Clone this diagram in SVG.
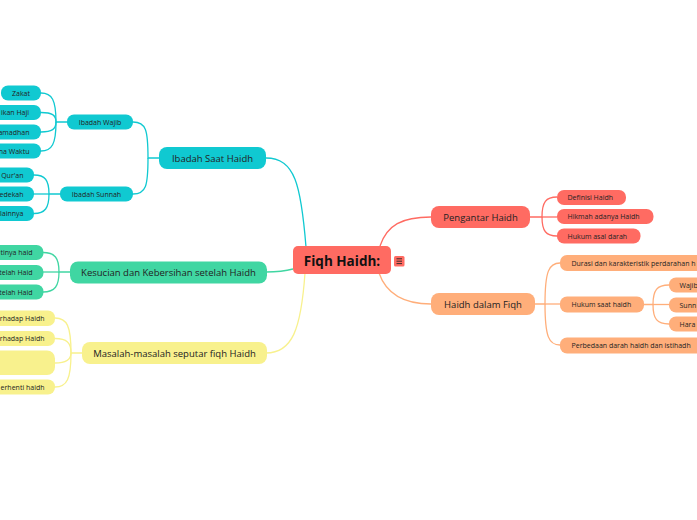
<svg xmlns="http://www.w3.org/2000/svg" width="697" height="520" viewBox="0 0 697 520">
<style>
text{font-family:"Open Sans","Noto Sans",sans-serif;fill:#222;}
.t1{font-size:9.5px;text-anchor:middle;}
.t2{font-size:7px;text-anchor:middle;}
.te{font-size:7px;text-anchor:end;}
.ts{font-size:7px;text-anchor:start;}
.c{fill:none;stroke-width:1.3;}
.teal{fill:#10c9d1;} .green{fill:#40d6a2;} .yellow{fill:#f8f18d;} .red{fill:#ff6b62;} .orange{fill:#ffae7a;}
.steal{stroke:#10c9d1;} .sgreen{stroke:#40d6a2;} .syellow{stroke:#f8f18d;} .sred{stroke:#ff6b62;} .sorange{stroke:#ffae7a;}
</style>
<rect width="697" height="520" fill="#ffffff"/>
<g id="connectors">
  <path class="c steal" d="M306 247 C301 185 295 158 266 158"/>
  <path class="c sgreen" d="M293 269 C282 272 276 272 266 272"/>
  <path class="c syellow" d="M305 273 C301 330 292 353 266 353"/>
  <path class="c sred" d="M380 246 C387 225 402 217 431 217"/>
  <path class="c sorange" d="M379 273 C386 293 402 304 431 304"/>
  <path class="c steal" d="M159 158 L148 158 C148 130 146 122 133 122"/>
  <path class="c steal" d="M148 158 C148 186 146 194 133 194"/>
  <path class="c steal" d="M67 122 L56 122 C56 100 52 93 41 93"/>
  <path class="c steal" d="M56 122 C56 115 52 112.5 41 112.5"/>
  <path class="c steal" d="M56 122 C56 129 52 132 41 132"/>
  <path class="c steal" d="M56 122 C56 144 52 151 41 151"/>
  <path class="c steal" d="M60 194 L49 194 C49 180 45 175 34 175"/>
  <path class="c steal" d="M49 194 L34 194"/>
  <path class="c steal" d="M49 194 C49 208 45 213.5 34 213.5"/>
  <path class="c sgreen" d="M70 272 L59 272 C59 258 55 252.5 43 252.5"/>
  <path class="c sgreen" d="M59 272 L43 272"/>
  <path class="c sgreen" d="M59 272 C59 286 55 292 43 292"/>
  <path class="c syellow" d="M82 353 L71 353 C71 326 67 318 55 318"/>
  <path class="c syellow" d="M71 353 C71 343 67 338.5 55 338.5"/>
  <path class="c syellow" d="M71 353 C71 359 67 363 55 363"/>
  <path class="c syellow" d="M71 353 C71 379 67 387 55 387"/>
  <path class="c sred" d="M530 217 L542 217 C542 202 546 197 557 197"/>
  <path class="c sred" d="M542 217 L557 217"/>
  <path class="c sred" d="M542 217 C542 231 546 236 557 236"/>
  <path class="c sorange" d="M535 304 L545 304 C545 271 549 263 560 263"/>
  <path class="c sorange" d="M545 304 L560 304"/>
  <path class="c sorange" d="M545 304 C545 337 549 345 560 345"/>
  <path class="c sorange" d="M644 304.5 L653 304.5 C653 290 657 285 669 285"/>
  <path class="c sorange" d="M653 304.5 L669 304.5"/>
  <path class="c sorange" d="M653 304.5 C653 319 657 324 669 324"/>
</g>
<g id="central">
  <rect class="red" x="293" y="246" width="98" height="28" rx="5"/>
  <text x="342" y="265.5" style="font-size:13.5px;font-weight:bold;text-anchor:middle;fill:#111;">Fiqh Haidh:</text>
  <rect class="red" x="394" y="256" width="10.5" height="10.5" rx="1.5"/>
  <path d="M396.5 258.8 H402 M396.5 261.2 H402 M396.5 263.6 H402" stroke="#222" stroke-width="0.9"/>
</g>
<g id="ibadah-saat-haidh">
  <rect class="teal" x="159" y="147" width="107" height="22" rx="8"/>
  <text class="t1" x="212.5" y="161.5">Ibadah Saat Haidh</text>
</g>
<g id="ibadah-wajib">
  <rect class="teal" x="67" y="114.5" width="66" height="15" rx="7"/>
  <text class="t2" x="100" y="124.5">Ibadah Wajib</text>
</g>
<g id="zakat">
  <rect class="teal" x="1" y="85.5" width="40" height="15" rx="7"/>
  <text class="t2" x="21" y="95.5">Zakat</text>
</g>
<g id="haji">
  <rect class="teal" x="-40" y="105" width="81" height="15" rx="7"/>
  <text class="te" x="29" y="115">ikan Haji</text>
</g>
<g id="ramadhan">
  <rect class="teal" x="-40" y="124.5" width="81" height="15" rx="7"/>
  <text class="te" x="29.5" y="134.5">amadhan</text>
</g>
<g id="shalat">
  <rect class="teal" x="-40" y="143.5" width="81" height="15" rx="7"/>
  <text class="te" x="29.5" y="153.5">na Waktu</text>
</g>
<g id="ibadah-sunnah">
  <rect class="teal" x="60" y="186.5" width="73" height="15" rx="7"/>
  <text class="t2" x="96.5" y="196.5">Ibadah Sunnah</text>
</g>
<g id="quran">
  <rect class="teal" x="-40" y="167.5" width="74" height="15" rx="7"/>
  <text class="te" x="23.5" y="177.5">Qur'an</text>
</g>
<g id="sedekah">
  <rect class="teal" x="-40" y="186.5" width="74" height="15" rx="7"/>
  <text class="te" x="23.5" y="196.5">edekah</text>
</g>
<g id="lainnya">
  <rect class="teal" x="-40" y="206" width="74" height="15" rx="7"/>
  <text class="te" x="23.5" y="216">lainnya</text>
</g>
<g id="kesucian">
  <rect class="green" x="70" y="261.5" width="197" height="22" rx="8"/>
  <text class="t1" x="168.5" y="276">Kesucian dan Kebersihan setelah Haidh</text>
</g>
<g id="kesucian-1">
  <rect class="green" x="-40" y="245" width="83.5" height="15" rx="7"/>
  <text class="te" x="32.5" y="255">tinya haid</text>
</g>
<g id="kesucian-2">
  <rect class="green" x="-40" y="265" width="83.5" height="15" rx="7"/>
  <text class="te" x="32.5" y="275">telah Haid</text>
</g>
<g id="kesucian-3">
  <rect class="green" x="-40" y="284.5" width="83.5" height="15" rx="7"/>
  <text class="te" x="32.5" y="294.5">telah Haid</text>
</g>
<g id="masalah">
  <rect class="yellow" x="82" y="342" width="185" height="22" rx="8"/>
  <text class="t1" x="174.5" y="356.5">Masalah-masalah seputar fiqh Haidh</text>
</g>
<g id="masalah-1">
  <rect class="yellow" x="-40" y="310.5" width="95" height="15.5" rx="7"/>
  <text class="te" x="44.5" y="320.8">rhadap Haidh</text>
</g>
<g id="masalah-2">
  <rect class="yellow" x="-40" y="331" width="95" height="15" rx="7"/>
  <text class="te" x="44.5" y="341">rhadap Haidh</text>
</g>
<g id="masalah-3">
  <rect class="yellow" x="-40" y="350.5" width="95" height="24.5" rx="8"/>
</g>
<g id="masalah-4">
  <rect class="yellow" x="-40" y="379.5" width="95" height="15" rx="7"/>
  <text class="te" x="44.5" y="389.5">erhenti haidh</text>
</g>
<g id="pengantar">
  <rect class="red" x="431" y="206" width="99" height="22" rx="8"/>
  <text class="t1" x="480.5" y="220.5">Pengantar Haidh</text>
</g>
<g id="definisi">
  <rect class="red" x="557" y="190" width="69" height="15" rx="7"/>
  <text class="ts" x="567.5" y="200">Definisi Haidh</text>
</g>
<g id="hikmah">
  <rect class="red" x="557" y="209" width="96.5" height="15" rx="7"/>
  <text class="ts" x="567.5" y="219">Hikmah adanya Haidh</text>
</g>
<g id="hukum-asal">
  <rect class="red" x="557" y="228.5" width="83.5" height="15" rx="7"/>
  <text class="ts" x="567.5" y="238.5">Hukum asal darah</text>
</g>
<g id="haidh-dalam-fiqh">
  <rect class="orange" x="431" y="293" width="104" height="22" rx="8"/>
  <text class="t1" x="483" y="307.5">Haidh dalam Fiqh</text>
</g>
<g id="durasi">
  <rect class="orange" x="560" y="255" width="160" height="16" rx="7"/>
  <text class="ts" x="571.5" y="265.5">Durasi dan karakteristik perdarahan h</text>
</g>
<g id="hukum-saat-haidh">
  <rect class="orange" x="560" y="296.5" width="84" height="16" rx="7"/>
  <text class="ts" x="571.5" y="307">Hukum saat haidh</text>
</g>
<g id="wajib">
  <rect class="orange" x="669" y="277.5" width="40" height="15" rx="7"/>
  <text class="ts" x="679.5" y="287.5">Wajib</text>
</g>
<g id="sunnah">
  <rect class="orange" x="669" y="297.5" width="40" height="15" rx="7"/>
  <text class="ts" x="679.5" y="307.5">Sunn</text>
</g>
<g id="haram">
  <rect class="orange" x="669" y="316.5" width="40" height="15" rx="7"/>
  <text class="ts" x="679.5" y="326.5">Hara</text>
</g>
<g id="perbedaan">
  <rect class="orange" x="560" y="337.5" width="160" height="16" rx="7"/>
  <text class="ts" x="571.5" y="348">Perbedaan darah haidh dan istihadh</text>
</g>
</svg>
